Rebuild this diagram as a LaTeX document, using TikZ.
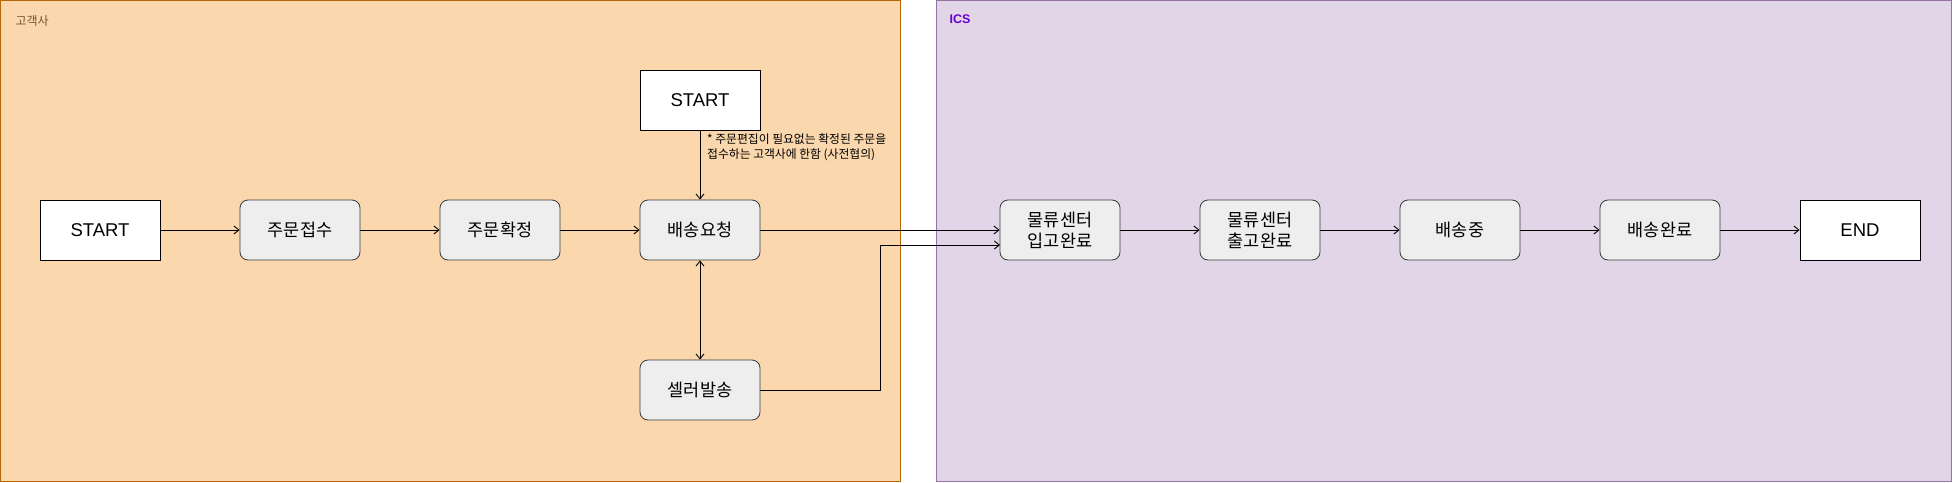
\documentclass[tikz,border=0pt]{standalone}
\usepackage{fontspec}
\setmainfont{Liberation Sans}
\newfontfamily\kr{Noto Sans CJK KR}
\usetikzlibrary{arrows.meta}
\definecolor{orfill}{HTML}{FAD7AC}
\definecolor{ordraw}{HTML}{B46504}
\definecolor{pufill}{HTML}{E1D5E7}
\definecolor{pudraw}{HTML}{9673A6}
\definecolor{boxfill}{HTML}{EEEEEE}
\definecolor{boxdraw}{HTML}{36393D}
\definecolor{krlabel}{HTML}{7A5230}
\definecolor{icslabel}{HTML}{6600CC}
\tikzset{
  x=1pt, y=-1pt,
  proc/.style={draw=boxdraw, fill=boxfill, rounded corners=8pt, minimum width=120pt, minimum height=60pt, inner sep=0pt, align=center, font=\kr\fontsize{17.5}{21}\selectfont, line width=0.8pt},
  term/.style={draw=black, fill=white, minimum width=120pt, minimum height=60pt, inner sep=0pt, align=center, font=\fontsize{18.5}{21}\selectfont, line width=0.8pt},
  conn/.style={draw=black, line width=0.9pt, -{Straight Barb[length=5pt,width=8pt]}},
}
\begin{document}
\begin{tikzpicture}
\useasboundingbox (0,0) rectangle (1952,482);
% containers
\draw[fill=orfill, draw=ordraw, line width=0.9pt] (0.5,0.5) rectangle (900,481);
\draw[fill=pufill, draw=pudraw, line width=0.9pt] (936,0.5) rectangle (1951.5,481);
\node[anchor=west, text=krlabel, font=\kr\fontsize{12}{14}\selectfont] (lbl1) at (12,21) {고객사};
\node[anchor=west, text=icslabel, font=\fontsize{12.5}{14}\selectfont\bfseries] (lbl2) at (946,19) {ICS};
% nodes
\node[term] (s1) at (100,230) {START};
\node[proc] (a1) at (300,230) {주문접수};
\node[proc] (a2) at (500,230) {주문확정};
\node[proc] (a3) at (700,230) {배송요청};
\node[term] (s2) at (700,100) {START};
\node[proc] (a4) at (700,390) {셀러발송};
\node[proc] (b1) at (1060,230) {물류센터\\입고완료};
\node[proc] (b2) at (1260,230) {물류센터\\출고완료};
\node[proc] (b3) at (1460,230) {배송중};
\node[proc] (b4) at (1660,230) {배송완료};
\node[term] (e1) at (1860,230) {END};
\coordinate (bend1) at (880,390);
\coordinate (bend2) at (880,245);
\coordinate (in2) at (1000,245);
% note
\node[anchor=north west, align=left, inner sep=0pt, font=\kr\fontsize{11.8}{15.5}\selectfont] (note) at (707,133) {* 주문편집이 필요없는 확정된 주문을\\접수하는 고객사에 한함 (사전협의)};
% edges
\draw[conn] (s1) -- (a1);
\draw[conn] (a1) -- (a2);
\draw[conn] (a2) -- (a3);
\draw[conn] (s2) -- (a3);
\draw[conn] (a3) -- (b1);
\draw[conn, {Straight Barb[length=5pt,width=8pt]}-{Straight Barb[length=5pt,width=8pt]}] (a3) -- (a4);
\draw[conn] (a4.east) -- (bend1) -- (bend2) -- (in2);
\draw[conn] (b1) -- (b2);
\draw[conn] (b2) -- (b3);
\draw[conn] (b3) -- (b4);
\draw[conn] (b4) -- (e1);
\end{tikzpicture}
\end{document}
